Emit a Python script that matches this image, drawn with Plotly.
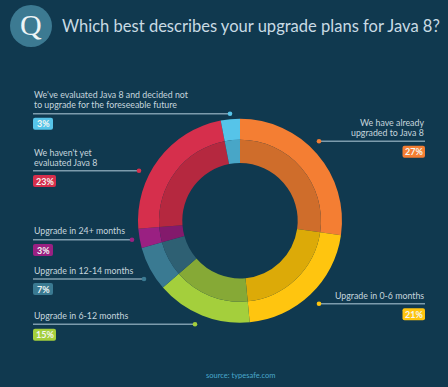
import plotly.graph_objects as go

W, H = 448, 387
BG = "#10394f"
TXT = "#c6d6de"
LINE = "#7d9cad"
FONT = "Lato"

categories = ["We have already upgraded to Java 8", "Upgrade in 0-6 months",
              "Upgrade in 6-12 months", "Upgrade in 12-14 months",
              "Upgrade in 24+ months", "We haven't yet evaluated Java 8",
              "We've evaluated Java 8 and decided not to upgrade for the foreseeable future"]
values = [27, 21, 15, 7, 3, 23, 3]
outer_colors = ["#f47e33", "#ffc50f", "#a4cf3c", "#3a7a92", "#9a2082", "#d62f4c", "#56c4e9"]
inner_colors = ["#cf6d2b", "#dcaa08", "#86a936", "#2e6073", "#831a6c", "#b5283f", "#48a6c7"]

label_lines = [["We have already", "upgraded to Java 8"], ["Upgrade in 0-6 months"],
               ["Upgrade in 6-12 months"], ["Upgrade in 12-14 months"],
               ["Upgrade in 24+ months"], ["We haven't yet", "evaluated Java 8"],
               ["We've evaluated Java 8 and decided not", "to upgrade for the foreseeable future"]]

# layout (pixels, from the top-left of the page)
CX, CY = 240, 220.7
R_OUT, R_MID, R_IN = 102, 81, 57.7
# side, line y, far end x of the leader, first text-line y, chip top, chip width
layout_rows = [("r", 141.3, 319, 122.7, 145.7, 22.5), ("r", 303.7, 319, 295, 308.3, 22.5),
               ("l", 324.3, 195, 315.7, 328.7, 23), ("l", 279, 144, 270, 283, 20),
               ("l", 239.7, 132, 230.7, 244, 20), ("l", 170.7, 139, 152.7, 175, 23),
               ("l", 113.7, 230, 94.3, 117.7, 20)]
LEFT, RIGHT = 33, 425
CHIP_H, LINE_STEP = 12, 10.2


def px(x):
    return x / W


def py(y):
    return 1 - y / H


def dom(r):
    return dict(x=[px(CX - r), px(CX + r)], y=[py(CY + r), py(CY - r)])


fig = go.Figure()
for r, hole, cols in ((R_OUT, R_MID / R_OUT, outer_colors), (R_MID, R_IN / R_MID, inner_colors)):
    fig.add_trace(go.Pie(labels=categories, values=values, sort=False, direction="clockwise",
                         rotation=0, hole=hole, domain=dom(r), textinfo="none",
                         marker=dict(colors=cols, line=dict(width=0)), showlegend=False))

shapes, ann = [], []


def text(x, y, s, size, color, anchor="left", family=FONT):
    ann.append(dict(x=px(x), y=py(y), xref="paper", yref="paper", text=s, showarrow=False,
                    xanchor=anchor, yanchor="middle", align=anchor, borderpad=0,
                    font=dict(family=family, size=size, color=color)))


def rrect(x0, y0, x1, y1, r, color):
    b0, b1 = y0, y1
    path = (f"M {x0+r} {H-b0} L {x1-r} {H-b0} Q {x1} {H-b0} {x1} {H-b0-r} L {x1} {H-b1+r} "
            f"Q {x1} {H-b1} {x1-r} {H-b1} L {x0+r} {H-b1} Q {x0} {H-b1} {x0} {H-b1+r} "
            f"L {x0} {H-b0-r} Q {x0} {H-b0} {x0+r} {H-b0} Z")
    shapes.append(dict(type="path", xref="x", yref="y", path=path, fillcolor=color, line=dict(width=0)))


for val, col, lines, (side, ly, end, ty, cy, cw) in zip(values, outer_colors, label_lines, layout_rows):
    x0, x1 = (LEFT, end) if side == "l" else (end, RIGHT)
    shapes.append(dict(type="line", xref="x", yref="y", x0=x0, x1=x1, y0=H - ly, y1=H - ly,
                       line=dict(color=LINE, width=1.4)))
    dotx = end
    shapes.append(dict(type="circle", xref="x", yref="y", x0=dotx - 2.3, x1=dotx + 2.3,
                       y0=H - ly - 2.3, y1=H - ly + 2.3, fillcolor=col, line=dict(width=0)))
    for i, s in enumerate(lines):
        if side == "l":
            text(LEFT, ty + i * LINE_STEP, s, 8.8, TXT, "left")
        else:
            text(RIGHT, ty + i * LINE_STEP, s, 8.8, TXT, "right")
    cx0 = LEFT if side == "l" else RIGHT - cw
    rrect(cx0, cy, cx0 + cw, cy + CHIP_H, 2, col)
    ann.append(dict(x=px(cx0 + cw / 2), y=py(cy + CHIP_H / 2), xref="paper", yref="paper",
                    text=f"<b>{val}%</b>", showarrow=False, xanchor="center", yanchor="middle",
                    font=dict(family=FONT, size=9, color="#f3f6f2")))

# question badge and title
shapes.append(dict(type="circle", xref="x", yref="y", x0=10, x1=52, y0=H - 47, y1=H - 5,
                   fillcolor="#3c7a92", line=dict(width=0)))
text(31, 25, "Q", 30, "#eef4f6", "center", "Liberation Serif")
text(61, 25.5, "Which best describes your upgrade plans for Java 8?", 16.55, "#c9dbe4", "left")
text(240, 375, "source: typesafe.com", 7.5, "#4aa8cc", "center")

fig.update_layout(width=W, height=H, margin=dict(l=0, r=0, t=0, b=0), autosize=False,
                  paper_bgcolor=BG, plot_bgcolor=BG, shapes=shapes, annotations=ann,
                  xaxis=dict(range=[0, W], visible=False, fixedrange=True),
                  yaxis=dict(range=[0, H], visible=False, fixedrange=True))
fig.write_html("out.html", config=dict(displayModeBar=False),
               default_width=W, default_height=H,
               post_script="document.body.style.margin='0';document.documentElement.style.overflow='hidden';")
